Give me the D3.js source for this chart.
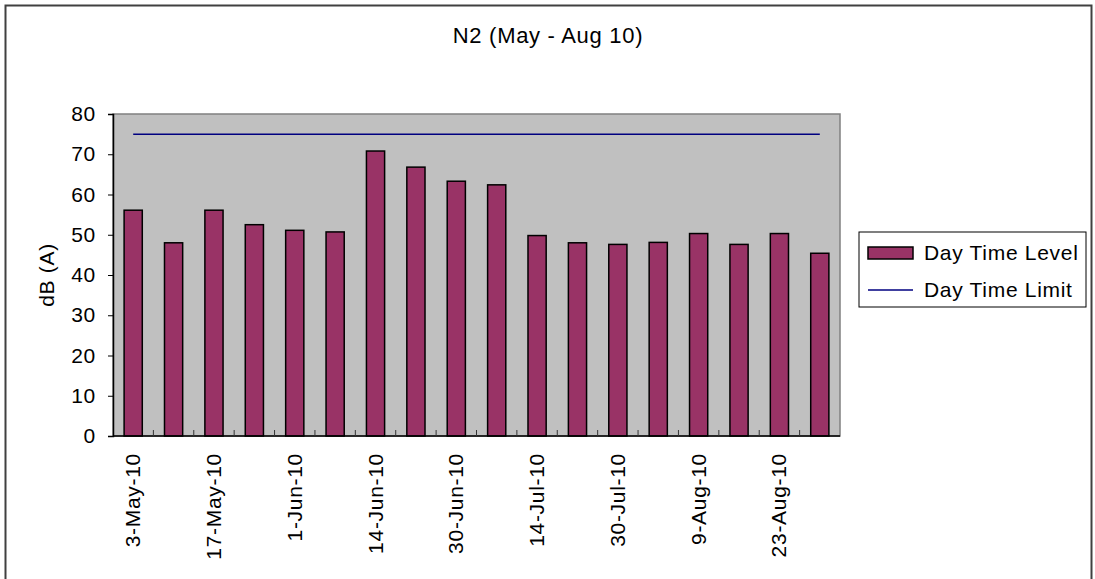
<!DOCTYPE html>
<html>
<head>
<meta charset="utf-8">
<script src="https://cdn.jsdelivr.net/npm/d3@7"></script>
<style>
  body { margin: 0; background: #fff; }
  text { font-family: "Liberation Sans", Arial, sans-serif; fill: #000; letter-spacing: 0.7px; }
</style>
</head>
<body>
<main></main>
<script>
const categories = [
  "3-May-10", "10-May-10", "17-May-10", "24-May-10", "1-Jun-10", "7-Jun-10",
  "14-Jun-10", "21-Jun-10", "30-Jun-10", "7-Jul-10", "14-Jul-10", "21-Jul-10",
  "30-Jul-10", "3-Aug-10", "9-Aug-10", "16-Aug-10", "23-Aug-10", "30-Aug-10",
]
const levelValues = [
  56.1, 48.0, 56.1, 52.5, 51.1, 50.7, 70.8, 66.8, 63.3,
  62.4, 49.8, 48.0, 47.6, 48.1, 50.3, 47.6, 50.3, 45.4,
]
const limitValues = categories.map(() => 75)
const yTicks = [0, 10, 20, 30, 40, 50, 60, 70, 80]
const seriesNames = ["Day Time Level", "Day Time Limit"]

const w = 1095
const h = 579
const fs = 21
const plot = { left: 113, top: 114, right: 840, bottom: 436 }

const svg = d3.select("main").append("svg").attr("width", w).attr("height", h)

// chart border
svg.append("rect")
  .attr("x", 5.5).attr("y", 5.5)
  .attr("width", 1086).attr("height", 600)
  .attr("fill", "#fff")
  .attr("stroke", "#404040")
  .attr("stroke-width", 2)

const xScale = d3.scaleBand()
  .domain(categories)
  .range([plot.left, plot.right])
  .paddingInner(0.55)
  .paddingOuter(0.275)

const xCenter = d3.scalePoint()
  .domain(categories)
  .range([plot.left, plot.right])
  .padding(0.5)

const yScale = d3.scaleLinear().domain([0, 80]).range([plot.bottom, plot.top])

// plot area
svg.append("rect")
  .attr("x", plot.left).attr("y", plot.top)
  .attr("width", plot.right - plot.left).attr("height", plot.bottom - plot.top)
  .attr("fill", "#c0c0c0")
  .attr("stroke", "#808080")
  .attr("stroke-width", 1.5)

// bars
svg.append("g")
  .selectAll("rect")
  .data(levelValues)
  .enter()
  .append("rect")
  .attr("x", (d, i) => xScale(categories[i]))
  .attr("y", (d) => yScale(d))
  .attr("width", xScale.bandwidth())
  .attr("height", (d) => yScale(0) - yScale(d))
  .attr("fill", "#993366")
  .attr("stroke", "#000")
  .attr("stroke-width", 1.5)

// limit line
const line = d3.line()
  .x((d, i) => xCenter(categories[i]))
  .y((d) => yScale(d))

svg.append("path")
  .datum(limitValues)
  .attr("d", line)
  .attr("fill", "none")
  .attr("stroke", "#000080")
  .attr("stroke-width", 1.5)

// y axis
const yAxis = d3.axisLeft(yScale).tickValues(yTicks).tickSize(5).tickPadding(12)
const gy = svg.append("g")
  .attr("transform", `translate(${plot.left}, 0)`)
  .call(yAxis)
gy.select(".domain").attr("stroke", "#000").attr("stroke-width", 1.5)
gy.selectAll(".tick line").attr("stroke", "#000")
gy.selectAll("text")
  .attr("font-size", fs)
  .attr("font-family", "Liberation Sans, Arial, sans-serif")
  .attr("fill", "#000")

// x axis: ticks at category boundaries pointing inward
const gx = svg.append("g").attr("transform", `translate(0, ${plot.bottom})`)
gx.append("line")
  .attr("x1", plot.left).attr("x2", plot.right)
  .attr("stroke", "#000").attr("stroke-width", 1.5)
gx.selectAll(".bnd")
  .data(categories.slice(1))
  .enter()
  .append("line")
  .attr("x1", (d) => xCenter(d) - xCenter.step() / 2)
  .attr("x2", (d) => xCenter(d) - xCenter.step() / 2)
  .attr("y1", 0).attr("y2", -6)
  .attr("stroke", "#333")
gx.selectAll(".lbl")
  .data(categories.filter((d, i) => i % 2 === 0))
  .enter()
  .append("text")
  .attr("transform", (d) => `translate(${xCenter(d) + 7}, 17) rotate(-90)`)
  .attr("text-anchor", "end")
  .attr("font-size", fs)
  .text((d) => d)

// y axis title
svg.append("text")
  .attr("transform", `translate(54, ${(plot.top + plot.bottom) / 2}) rotate(-90)`)
  .attr("text-anchor", "middle")
  .attr("font-size", fs)
  .text("dB (A)")

// title
svg.append("text")
  .attr("x", 548).attr("y", 43)
  .attr("text-anchor", "middle")
  .attr("font-size", 22)
  .text("N2 (May - Aug 10)")

// legend
const legend = svg.append("g").attr("transform", "translate(859, 232)")
legend.append("rect")
  .attr("width", 227).attr("height", 75)
  .attr("fill", "#fff").attr("stroke", "#000").attr("stroke-width", 1)
legend.append("rect")
  .attr("x", 9).attr("y", 15).attr("width", 45).attr("height", 12)
  .attr("fill", "#993366").attr("stroke", "#000").attr("stroke-width", 1.5)
legend.append("line")
  .attr("x1", 9).attr("x2", 54).attr("y1", 58).attr("y2", 58)
  .attr("stroke", "#000080").attr("stroke-width", 1.5)
legend.selectAll(".lt")
  .data(seriesNames)
  .enter()
  .append("text")
  .attr("x", 65)
  .attr("y", (d, i) => 28 + i * 37)
  .attr("font-size", fs)
  .text((d) => d)
</script>
</body>
</html>
